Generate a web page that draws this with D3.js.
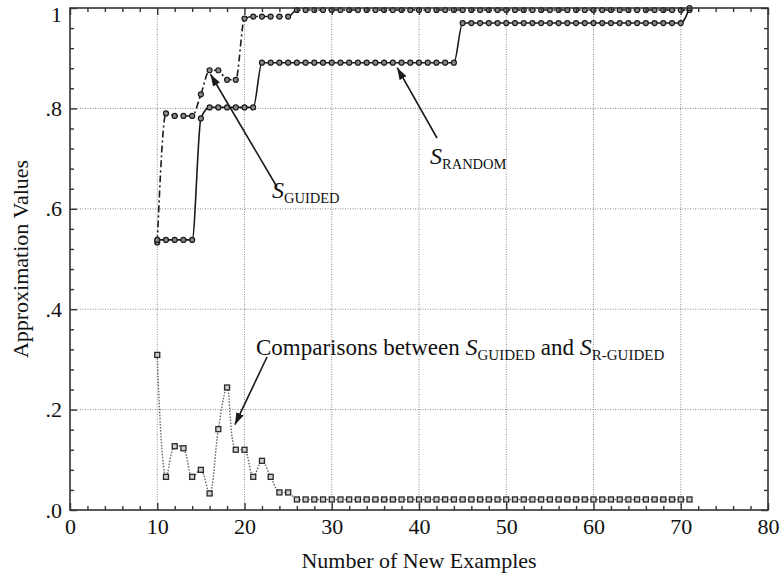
<!DOCTYPE html>
<html>
<head>
<meta charset="utf-8">
<script src="https://cdn.jsdelivr.net/npm/d3@7"></script>
<style>
  body { margin: 0; background: #fff; }
  svg { display: block; }
  text { font-family: "Liberation Serif", "Times New Roman", serif; fill: #111; }
</style>
</head>
<body>
<svg id="chart" width="781" height="578"></svg>
<script>
// Number of new examples (x values shared by every series)
const examples = [10, 11, 12, 13, 14, 15, 16, 17, 18, 19, 20, 21, 22, 23, 24, 25, 26, 27, 28, 29,
  30, 31, 32, 33, 34, 35, 36, 37, 38, 39, 40, 41, 42, 43, 44, 45, 46, 47, 48, 49,
  50, 51, 52, 53, 54, 55, 56, 57, 58, 59, 60, 61, 62, 63, 64, 65, 66, 67, 68, 69, 70, 71];

// S_RANDOM approximation values
const sRandom = [0.538, 0.538, 0.538, 0.538, 0.538, 0.780, 0.802, 0.802, 0.802, 0.802,
  0.802, 0.802, 0.891, 0.891, 0.891, 0.891, 0.891, 0.891, 0.891, 0.891,
  0.891, 0.891, 0.891, 0.891, 0.891, 0.891, 0.891, 0.891, 0.891, 0.891,
  0.891, 0.891, 0.891, 0.891, 0.891, 0.970, 0.970, 0.970, 0.970, 0.970,
  0.970, 0.970, 0.970, 0.970, 0.970, 0.970, 0.970, 0.970, 0.970, 0.970,
  0.970, 0.970, 0.970, 0.970, 0.970, 0.970, 0.970, 0.970, 0.970, 0.970, 0.970, 1.000];

// S_GUIDED approximation values
const sGuided = [0.533, 0.790, 0.785, 0.785, 0.785, 0.828, 0.876, 0.876, 0.857, 0.857,
  0.979, 0.983, 0.983, 0.983, 0.983, 0.983, 0.996, 0.996, 0.996, 0.996,
  0.996, 0.996, 0.996, 0.996, 0.996, 0.996, 0.996, 0.996, 0.996, 0.996,
  0.996, 0.996, 0.996, 0.996, 0.996, 0.996, 0.996, 0.996, 0.996, 0.996,
  0.996, 0.996, 0.996, 0.996, 0.996, 0.996, 0.996, 0.996, 0.996, 0.996,
  0.996, 0.996, 0.996, 0.996, 0.996, 0.996, 0.996, 0.996, 0.996, 0.996, 0.996, 0.996];

// Comparison between S_GUIDED and S_R-GUIDED
const comparison = [0.309, 0.066, 0.127, 0.123, 0.066, 0.080, 0.033, 0.161, 0.244, 0.120,
  0.120, 0.066, 0.098, 0.066, 0.035, 0.035, 0.021, 0.021, 0.021, 0.021,
  0.021, 0.021, 0.021, 0.021, 0.021, 0.021, 0.021, 0.021, 0.021, 0.021,
  0.021, 0.021, 0.021, 0.021, 0.021, 0.021, 0.021, 0.021, 0.021, 0.021,
  0.021, 0.021, 0.021, 0.021, 0.021, 0.021, 0.021, 0.021, 0.021, 0.021,
  0.021, 0.021, 0.021, 0.021, 0.021, 0.021, 0.021, 0.021, 0.021, 0.021, 0.021, 0.021];

// Axis ticks and their labels
const xTicks = [0, 10, 20, 30, 40, 50, 60, 70, 80];
const xTickLabels = ["0", "10", "20", "30", "40", "50", "60", "70", "80"];
const yTicks = [0, 0.2, 0.4, 0.6, 0.8, 1];
const yTickLabels = [".0", ".2", ".4", ".6", ".8", "1"];
const xGrid = [10, 20, 30, 40, 50, 60, 70];
const yGrid = [0.2, 0.4, 0.6, 0.8];

const svg = d3.select("#chart");
const margin = { left: 70, right: 13, top: 8, bottom: 68 };
const W = 781, H = 578;
const iw = W - margin.left - margin.right;
const ih = H - margin.top - margin.bottom;

const x = d3.scaleLinear().domain([0, 80]).range([margin.left, margin.left + iw]);
const y = d3.scaleLinear().domain([0, 1]).range([margin.top + ih, margin.top]);

const ink = "#1a1a1a";

// Dotted grid
const grid = svg.append("g").attr("stroke", "#8a8a8a").attr("stroke-width", 1)
  .attr("stroke-dasharray", "1,1.5");
grid.selectAll(".gx").data(xGrid).join("line")
  .attr("x1", d => x(d)).attr("x2", d => x(d))
  .attr("y1", y(0)).attr("y2", y(1));
grid.selectAll(".gy").data(yGrid).join("line")
  .attr("x1", x(0)).attr("x2", x(80))
  .attr("y1", d => y(d)).attr("y2", d => y(d));

// Series lines
const pts = vals => examples.map((e, i) => [e, vals[i]]);

const smoothLine = d3.line().x(d => x(d[0])).y(d => y(d[1])).curve(d3.curveMonotoneX);
const cmpLine = d3.line().x(d => x(d[0])).y(d => y(d[1])).curve(d3.curveCatmullRom.alpha(0.5));

svg.append("path").datum(pts(comparison))
  .attr("d", cmpLine).attr("fill", "none")
  .attr("stroke", "#666").attr("stroke-width", 1.4).attr("stroke-dasharray", "1.5,1.5");

svg.append("path").datum(pts(sGuided))
  .attr("d", smoothLine).attr("fill", "none")
  .attr("stroke", ink).attr("stroke-width", 1.6).attr("stroke-dasharray", "7,3,2,3");

svg.append("path").datum(pts(sRandom))
  .attr("d", smoothLine).attr("fill", "none")
  .attr("stroke", ink).attr("stroke-width", 1.6);

// Markers
svg.append("g").selectAll("rect").data(pts(comparison)).join("rect")
  .attr("x", d => x(d[0]) - 2.5).attr("y", d => y(d[1]) - 2.5)
  .attr("width", 5).attr("height", 5)
  .attr("fill", "#cfcfcf").attr("stroke", "#2a2a2a").attr("stroke-width", 1.3);

svg.append("g").selectAll("circle").data(pts(sGuided)).join("circle")
  .attr("cx", d => x(d[0])).attr("cy", d => y(d[1])).attr("r", 2.5)
  .attr("fill", "#8a8a8a").attr("stroke", ink).attr("stroke-width", 1.2);

svg.append("g").selectAll("circle").data(pts(sRandom)).join("circle")
  .attr("cx", d => x(d[0])).attr("cy", d => y(d[1])).attr("r", 2.5)
  .attr("fill", "#8a8a8a").attr("stroke", ink).attr("stroke-width", 1.2);

// Frame
svg.append("rect")
  .attr("x", x(0)).attr("y", y(1)).attr("width", x(80) - x(0)).attr("height", y(0) - y(1))
  .attr("fill", "none").attr("stroke", "#333").attr("stroke-width", 1.6);

// Axes: inward ticks on all four sides, minor ticks between
const xMinor = d3.range(0, 81, 2).filter(v => v % 10 !== 0);
const yMinor = d3.range(0, 1.0001, 0.04).filter(v => Math.abs(v * 5 - Math.round(v * 5)) > 1e-6);

function styleAxis(g) {
  g.select(".domain").remove();
  g.selectAll(".tick line").attr("stroke", "#333").attr("stroke-width", 1.4);
  g.selectAll(".tick text").attr("font-size", 22).attr("fill", "#111")
    .attr("font-family", "Liberation Serif, Times New Roman, serif");
}

svg.append("g").attr("transform", `translate(0,${y(0)})`)
  .call(d3.axisBottom(x).tickValues(xTicks).tickSize(-7).tickPadding(8)
    .tickFormat((d, i) => xTickLabels[i]))
  .call(styleAxis);
svg.append("g").attr("transform", `translate(0,${y(0)})`)
  .call(d3.axisBottom(x).tickValues(xMinor).tickSize(-4).tickFormat(""))
  .call(styleAxis);
svg.append("g").attr("transform", `translate(0,${y(1)})`)
  .call(d3.axisTop(x).tickValues(xTicks).tickSize(-7).tickFormat(""))
  .call(styleAxis);
svg.append("g").attr("transform", `translate(0,${y(1)})`)
  .call(d3.axisTop(x).tickValues(xMinor).tickSize(-4).tickFormat(""))
  .call(styleAxis);

const yAxisG = svg.append("g").attr("transform", `translate(${x(0)},0)`)
  .call(d3.axisLeft(y).tickValues(yTicks).tickSize(-7).tickPadding(8)
    .tickFormat((d, i) => yTickLabels[i]))
  .call(styleAxis);
// keep the top label inside the canvas
yAxisG.selectAll(".tick text").filter(d => d === 1).attr("dy", "0.62em");
svg.append("g").attr("transform", `translate(${x(0)},0)`)
  .call(d3.axisLeft(y).tickValues(yMinor).tickSize(-4).tickFormat(""))
  .call(styleAxis);
svg.append("g").attr("transform", `translate(${x(80)},0)`)
  .call(d3.axisRight(y).tickValues(yTicks).tickSize(-7).tickFormat(""))
  .call(styleAxis);
svg.append("g").attr("transform", `translate(${x(80)},0)`)
  .call(d3.axisRight(y).tickValues(yMinor).tickSize(-4).tickFormat(""))
  .call(styleAxis);

// Axis titles
svg.append("text")
  .attr("x", (x(0) + x(80)) / 2).attr("y", 568)
  .attr("text-anchor", "middle").attr("font-size", 22)
  .text("Number of New Examples");
svg.append("text")
  .attr("transform", `translate(28,${(y(0) + y(1)) / 2}) rotate(-90)`)
  .attr("text-anchor", "middle").attr("font-size", 22)
  .text("Approximation Values");

// Arrowheads
const defs = svg.append("defs");
defs.append("marker").attr("id", "arrow")
  .attr("viewBox", "0 0 12 8").attr("refX", 12).attr("refY", 4)
  .attr("markerWidth", 12).attr("markerHeight", 8)
  .attr("markerUnits", "userSpaceOnUse").attr("orient", "auto")
  .append("path").attr("d", "M0,0 L12,4 L0,8 Z").attr("fill", ink);

function arrow(x1, y1, x2, y2) {
  svg.append("line").attr("x1", x1).attr("y1", y1).attr("x2", x2).attr("y2", y2)
    .attr("stroke", ink).attr("stroke-width", 1.6).attr("marker-end", "url(#arrow)");
}

// Labels with subscripts
function subLabel(parts, base, italicSize, subSize) {
  const t = svg.append("text");
  parts.forEach(p => {
    const ts = t.append("tspan").text(p.text);
    if (p.italic) ts.attr("font-style", "italic").attr("font-size", italicSize);
    else if (p.sub) ts.attr("font-size", subSize).attr("dy", 5);
    else ts.attr("font-size", base);
    if (p.up) ts.attr("dy", -5);
  });
  return t;
}

// S_GUIDED
arrow(277, 187, x(16.1), y(0.872) + 2);
subLabel([{ text: "S", italic: true }, { text: "GUIDED", sub: true }], 22, 24, 14.5)
  .attr("x", 272).attr("y", 198);

// S_RANDOM
arrow(437, 138, x(37.5), y(0.889) + 4);
subLabel([{ text: "S", italic: true }, { text: "RANDOM", sub: true }], 22, 24, 14.5)
  .attr("x", 430).attr("y", 164);

// Comparison label
arrow(267, 357, x(18.9), y(0.17));
subLabel([
  { text: "Comparisons between " },
  { text: "S", italic: true },
  { text: "GUIDED", sub: true },
  { text: " and ", up: true },
  { text: "S", italic: true },
  { text: "R-GUIDED", sub: true }
], 23, 24, 15).attr("x", 256).attr("y", 355);
</script>
</body>
</html>
